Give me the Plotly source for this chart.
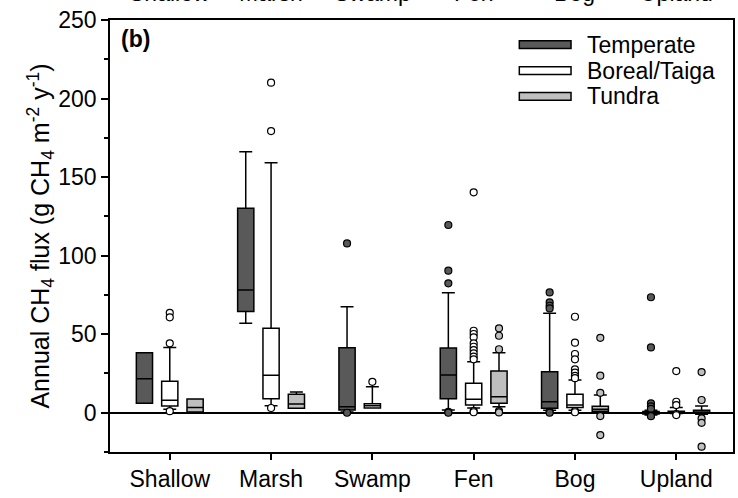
import plotly.graph_objects as go

categories = ["Shallow", "Marsh", "Swamp", "Fen", "Bog", "Upland"]
groups = ["Temperate", "Boreal/Taiga", "Tundra"]

# Box statistics per group (None = no box for that category)
temperate_q1 = [6.0, 64.5, 1.7, 8.9, 2.8, -0.8]
temperate_med = [21.6, 78.1, 3.8, 24.0, 7.0, 0.0]
temperate_q3 = [38.2, 130.1, 41.4, 41.2, 26.1, 0.8]
temperate_lo = [6.0, 56.9, 0.5, 1.7, 1.5, -1.5]
temperate_hi = [38.2, 166.1, 67.5, 76.4, 63.4, 1.5]
temperate_out = [[], [], [107.8, 0.0], [119.5, 90.4, 82.4, 0.5, 0.0],
                 [76.6, 70.3, 68.1, 66.4, 0.5, 0.0],
                 [73.5, 41.6, 6.0, 4.0, 2.5, -1.8, -2.2]]

boreal_q1 = [4.3, 8.9, 3.0, 4.9, 3.4, 0.0]
boreal_med = [7.9, 23.8, 4.5, 8.5, 4.9, 0.5]
boreal_q3 = [20.0, 53.7, 5.7, 18.7, 11.7, 1.0]
boreal_lo = [2.2, 4.5, 3.0, 3.0, 1.5, -0.5]
boreal_hi = [41.6, 159.1, 16.6, 32.5, 20.8, 3.4]
boreal_out = [[63.6, 60.7, 44.2, 1.0], [210.1, 179.3, 3.0], [19.7],
              [140.3, 52.2, 50.1, 48.0, 44.2, 42.0, 39.9, 37.8, 35.7, 34.0, 1.0, 0.3],
              [61.1, 44.6, 37.4, 34.0, 27.6, 25.5, 23.4, 22.0, 1.0, 0.3],
              [26.5, 7.0, 4.9, -0.8, -1.5]]

tundra_q1 = [0.5, 2.8, None, 6.0, 0.9, -0.3]
tundra_med = [3.4, 5.5, None, 10.2, 2.2, 0.5]
tundra_q3 = [8.7, 11.7, None, 26.5, 4.1, 1.5]
tundra_lo = [0.5, 2.8, None, 3.8, 0.5, -1.0]
tundra_hi = [8.7, 13.2, None, 38.2, 11.3, 4.3]
tundra_out = [[], [], [], [53.7, 49.0, 40.4, 1.0, 0.2],
              [47.7, 23.6, 12.7, -2.1, -14.2],
              [25.9, 8.1, -3.6, -6.4, -21.6]]

y_ticks = [0, 50, 100, 150, 200, 250]

# styles
colors = ["#595959", "#ffffff", "#bfbfbf"]
offsets = [-0.25, 0.0, 0.25]
FONT = "Liberation Sans, Arial, sans-serif"
FS = 23

stats = [
    (temperate_q1, temperate_med, temperate_q3, temperate_lo, temperate_hi, temperate_out),
    (boreal_q1, boreal_med, boreal_q3, boreal_lo, boreal_hi, boreal_out),
    (tundra_q1, tundra_med, tundra_q3, tundra_lo, tundra_hi, tundra_out),
]

fig = go.Figure()
for g, (q1, med, q3, lo, hi, outs) in enumerate(stats):
    idx = [i for i in range(len(categories)) if q1[i] is not None]
    fig.add_trace(go.Box(
        name=groups[g],
        x=[i + offsets[g] for i in idx],
        q1=[q1[i] for i in idx], median=[med[i] for i in idx], q3=[q3[i] for i in idx],
        lowerfence=[lo[i] for i in idx], upperfence=[hi[i] for i in idx],
        boxpoints=False, width=0.16, whiskerwidth=0.8,
        fillcolor=colors[g], line=dict(color="black", width=1.5),
        showlegend=False,
    ))
    ox, oy = [], []
    for i, vals in enumerate(outs):
        for v in vals:
            ox.append(i + offsets[g])
            oy.append(v)
    fig.add_trace(go.Scatter(
        x=ox, y=oy, mode="markers", showlegend=False,
        marker=dict(symbol="circle", size=7, color=colors[g],
                    line=dict(color="black", width=1.2)),
    ))

# manual legend
leg_y = [0.943, 0.883, 0.823]
for g in range(3):
    fig.add_shape(type="rect", xref="paper", yref="paper",
                  x0=0.657, x1=0.740, y0=leg_y[g] - 0.009, y1=leg_y[g] + 0.009,
                  fillcolor=colors[g], line=dict(color="black", width=1.5))
    fig.add_annotation(xref="paper", yref="paper", x=0.763, y=leg_y[g],
                       xanchor="left", yanchor="middle", text=groups[g],
                       showarrow=False, font=dict(size=FS, color="black", family=FONT))

fig.add_annotation(xref="paper", yref="paper", x=0.015, y=0.99,
                   xanchor="left", yanchor="top", text="<b>(b)</b>",
                   showarrow=False, font=dict(size=FS, color="black", family=FONT))

# clipped labels of the panel above
for i, c in enumerate(categories):
    fig.add_annotation(xref="x", yref="paper", x=i, y=1, yanchor="bottom",
                       yshift=12, text=c, showarrow=False,
                       font=dict(size=FS, color="black", family=FONT))

fig.update_layout(
    width=738, height=498,
    margin=dict(l=110, r=3, t=20, b=46),
    plot_bgcolor="white", paper_bgcolor="white",
    font=dict(family=FONT, size=FS, color="black"),
    boxmode="overlay",
    xaxis=dict(range=[-0.59, 5.56], tickmode="array",
               tickvals=list(range(len(categories))), ticktext=categories,
               ticks="outside", ticklen=6, tickwidth=1.5, tickcolor="black",
               showline=True, linecolor="black", linewidth=1.5, mirror=True,
               showgrid=False, zeroline=False, tickfont=dict(size=FS)),
    yaxis=dict(range=[-25, 250], tickmode="array", tickvals=y_ticks,
               ticks="outside", ticklen=7, tickwidth=1.5, tickcolor="black",
               minor=dict(ticks="outside", ticklen=4, dtick=25, tick0=0,
                          tickcolor="black", tickwidth=1.5, showgrid=False),
               showline=True, linecolor="black", linewidth=1.5, mirror=True,
               showgrid=False, zeroline=True, zerolinecolor="black", zerolinewidth=1.5,
               tickfont=dict(size=FS),
               title=dict(text="Annual CH<sub>4</sub> flux (g CH<sub>4</sub> m<sup>-2</sup> y<sup>-1</sup>)",
                          font=dict(size=25), standoff=0)),
)

fig.write_html("out.html")
